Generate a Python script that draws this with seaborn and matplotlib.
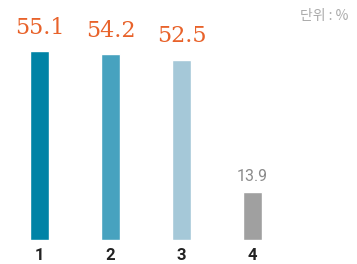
import seaborn as sns
import matplotlib.pyplot as plt
import pandas as pd

categories = ["1", "2", "3", "4"]
values = [55.1, 54.2, 52.5, 13.9]
label_texts = ["55.1", "54.2", "52.5", "13.9"]
bar_colors = ["#0083a6", "#47a2bf", "#a5c8d8", "#a0a0a0"]
highlight = [True, True, True, False]
unit_text = "단위 : %"

df = pd.DataFrame({"cat": categories, "val": values})

sns.set_style("white")
plt.rcParams["font.family"] = ["Roboto", "DejaVu Sans"]

fig = plt.figure(figsize=(3.57, 2.64), dpi=100)
ax = fig.add_axes([4 / 357, 24 / 264, 284 / 357, 240 / 264])

sns.barplot(data=df, x="cat", y="val", hue="cat", palette=bar_colors,
            legend=False, width=0.268, saturation=1, ax=ax)

ax.set_xlim(-0.5, 3.5)
ax.set_ylim(0, 70)
ax.set_xlabel("")
ax.set_ylabel("")
ax.set_yticks([])
sns.despine(ax=ax, left=True, bottom=True)
ax.tick_params(axis="x", length=0, pad=5.5, labelsize=12, labelcolor="#222222")
for t in ax.get_xticklabels():
    t.set_fontweight("semibold")

for i, (v, txt, hi) in enumerate(zip(values, label_texts, highlight)):
    if hi:
        ax.annotate(txt, (i, v), xytext=(0, 9), textcoords="offset points",
                    ha="center", va="bottom", color="#e8622a", fontsize=16,
                    family="DejaVu Serif")
    else:
        ax.annotate(txt, (i, v), xytext=(0, 6), textcoords="offset points",
                    ha="center", va="bottom", color="#8a8a8a", fontsize=11.5)

fig.text(348 / 357, 1 - 16 / 264, unit_text, ha="right", va="center",
         fontsize=10, color="#aaaaaa", family=["Noto Sans CJK KR", "DejaVu Sans"])

plt.savefig("out.png", dpi=100)
